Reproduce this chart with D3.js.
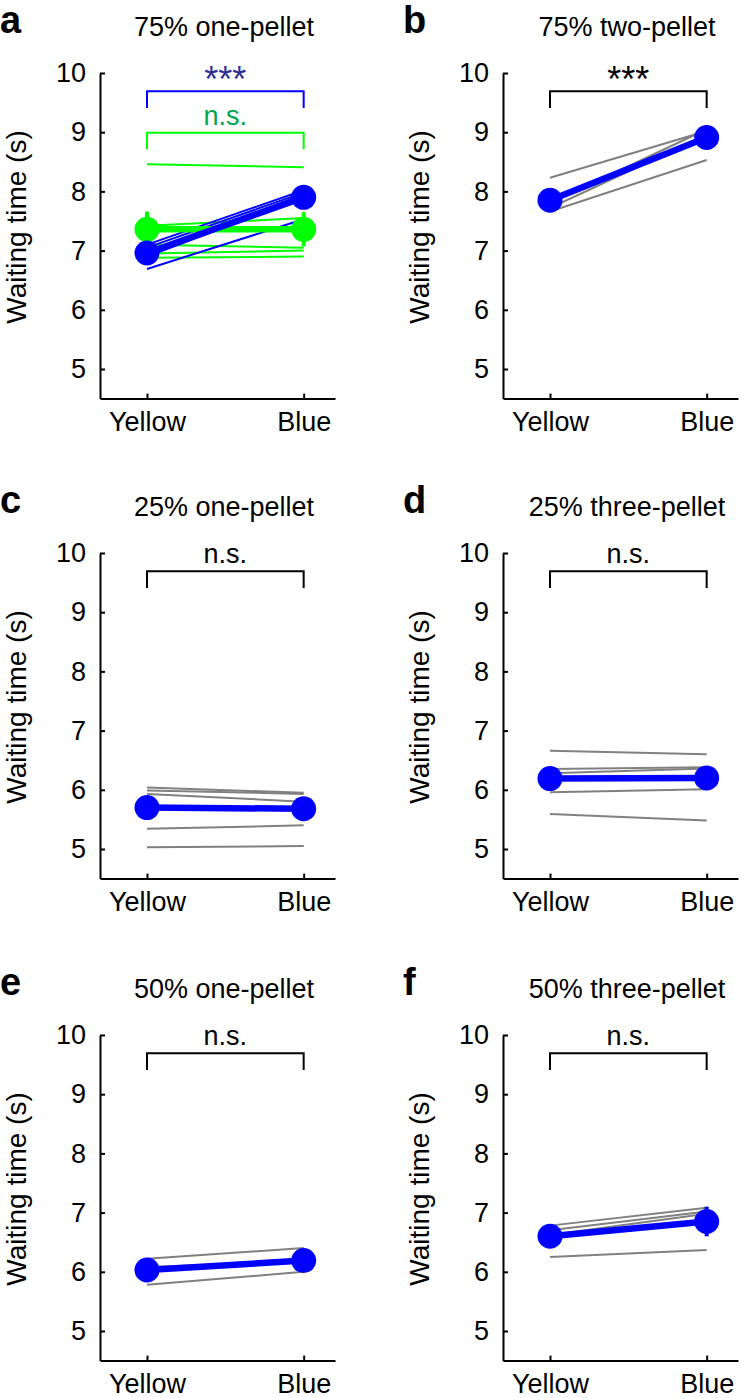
<!DOCTYPE html>
<html><head><meta charset="utf-8">
<script src="https://cdn.jsdelivr.net/npm/d3@7"></script>
<style>
body{margin:0;background:#fff;}
svg{display:block;font-family:Arial,"Liberation Sans",Helvetica,sans-serif;}
</style></head>
<body>
<svg id="chart" width="754" height="1398"></svg>
<script>
const panelLetters = ["a","b","c","d","e","f"];
const titles = ["75% one-pellet","75% two-pellet","25% one-pellet","25% three-pellet","50% one-pellet","50% three-pellet"];
const categories = ["Yellow","Blue"];
const yTicks = [5,6,7,8,9,10];
const meanYellow = [6.96, 7.85, 5.70, 6.19, 6.03, 6.60];
const meanBlue   = [7.90, 8.91, 5.68, 6.20, 6.19, 6.85];
const semYellow  = [0.08, 0.08, 0.05, 0.06, 0.05, 0.07];
const semBlue    = [0.08, 0.10, 0.05, 0.06, 0.05, 0.25];
const ratsYellow = [
  [7.10, 7.05, 6.95, 6.90, 6.69],
  [8.23, 7.80, 7.72, 7.66],
  [6.04, 5.99, 5.93, 5.34, 5.03],
  [6.66, 6.35, 6.28, 5.96, 5.59],
  [6.22, 6.08, 5.78],
  [6.78, 6.70, 6.62, 6.25]
];
const ratsBlue = [
  [8.02, 7.98, 7.95, 7.90, 7.53],
  [9.02, 9.05, 8.95, 8.53],
  [5.95, 5.93, 5.80, 5.40, 5.05],
  [6.60, 6.38, 6.36, 6.01, 5.48],
  [6.40, 6.18, 6.00],
  [7.08, 7.02, 6.98, 6.37]
];
// Panel a, second group (green)
const greenRatsYellow = [8.46, 7.42, 7.10, 6.95, 6.88];
const greenRatsBlue   = [8.41, 7.55, 7.05, 7.00, 6.90];
const greenMean = [7.36, 7.36];
const greenSem  = [0.30, 0.29];
const sigLabels = ["***","***","n.s.","n.s.","n.s.","n.s."];
const sigBracketY = [9.69, 9.69, 9.69, 9.69, 9.69, 9.69];
const greenSigLabel = "n.s.";
const greenBracketY = 8.99;

const svg = d3.select("#chart");
const font = 'Arial,"Liberation Sans",Helvetica,sans-serif';
const BLUE = "#0000ff", GREEN = "#00ff00", GRAY = "#808080";

const colX = [100, 503];
const rowTop = [73, 553, 1035];
const unit = 59.2;

panelLetters.forEach((letter, i) => {
  const ax = colX[i % 2];
  const top = rowTop[Math.floor(i / 2)];
  const y = d3.scaleLinear().domain([4.5, 10]).range([top + 5.5 * unit, top]);
  const x = d3.scaleLinear().domain([0.7, 2.2]).range([ax, ax + 235]);
  const g = svg.append("g");

  // panel letter
  g.append("text").attr("x", ax - 100).attr("y", top - 40)
    .attr("font-size", 38).attr("font-weight", "bold").attr("fill", "#000").text(letter);
  // title
  g.append("text").attr("x", ax + 124).attr("y", top - 37).attr("text-anchor", "middle")
    .attr("font-size", 27).attr("fill", "#000").text(titles[i]);

  // y axis
  const yAxis = d3.axisLeft(y).tickValues(yTicks).tickFormat(d3.format("d"))
    .tickSizeInner(-5).tickSizeOuter(0).tickPadding(14);
  const ya = g.append("g").attr("transform", `translate(${ax},0)`).call(yAxis);
  ya.select(".domain").attr("stroke", "#000").attr("stroke-width", 2);
  ya.selectAll(".tick line").attr("stroke", "#000").attr("stroke-width", 2);
  ya.selectAll(".tick text").attr("font-size", 27).attr("font-family", font).attr("fill", "#000");

  // x axis
  const xAxis = d3.axisBottom(x).tickValues([1, 2]).tickFormat((d) => categories[d - 1])
    .tickSizeInner(-5).tickSizeOuter(0).tickPadding(13);
  const xa = g.append("g").attr("transform", `translate(0,${y(4.5)})`).call(xAxis);
  xa.select(".domain").attr("stroke", "#000").attr("stroke-width", 2);
  xa.selectAll(".tick line").attr("stroke", "#000").attr("stroke-width", 2);
  xa.selectAll(".tick text").attr("font-size", 27).attr("font-family", font).attr("fill", "#000");

  // y label
  g.append("text").attr("transform", `translate(${ax - 74},${top + 154}) rotate(-90)`)
    .attr("text-anchor", "middle").attr("font-size", 28).attr("fill", "#000").text("Waiting time (s)");

  // brackets
  function bracket(val, color, label, labelColor) {
    const x1 = x(1), x2 = x(2), yt = y(val), yb = y(val - 0.28);
    g.append("path").attr("d", `M${x1},${yb}V${yt}H${x2}V${yb}`)
      .attr("fill", "none").attr("stroke", color).attr("stroke-width", 2);
    const isStar = label === "***";
    g.append("text").attr("x", (x1 + x2) / 2).attr("y", isStar ? yt + 1 : yt - 8)
      .attr("text-anchor", "middle").attr("font-size", isStar ? 36 : 27)
      .attr("fill", labelColor).text(label);
  }

  if (i === 0) {
    bracket(sigBracketY[i], BLUE, sigLabels[i], "#2e3192");
    bracket(greenBracketY, GREEN, greenSigLabel, "#00a550");
  } else {
    bracket(sigBracketY[i], "#000", sigLabels[i], "#000");
  }

  const thinColor = i === 0 ? BLUE : GRAY;
  // individual lines
  if (i === 0) {
    greenRatsYellow.forEach((v, k) => {
      g.append("line").attr("x1", x(1)).attr("y1", y(v)).attr("x2", x(2)).attr("y2", y(greenRatsBlue[k]))
        .attr("stroke", GREEN).attr("stroke-width", 2);
    });
  }
  ratsYellow[i].forEach((v, k) => {
    g.append("line").attr("x1", x(1)).attr("y1", y(v)).attr("x2", x(2)).attr("y2", y(ratsBlue[i][k]))
      .attr("stroke", thinColor).attr("stroke-width", 2);
  });

  function meanSeries(mY, mB, sY, sB, color) {
    [[1, mY, sY], [2, mB, sB]].forEach(([cx, m, s]) => {
      g.append("line").attr("x1", x(cx)).attr("x2", x(cx)).attr("y1", y(m - s)).attr("y2", y(m + s))
        .attr("stroke", color).attr("stroke-width", 4);
    });
    g.append("line").attr("x1", x(1)).attr("y1", y(mY)).attr("x2", x(2)).attr("y2", y(mB))
      .attr("stroke", color).attr("stroke-width", 6.5);
    [[1, mY], [2, mB]].forEach(([cx, m]) => {
      g.append("circle").attr("cx", x(cx)).attr("cy", y(m)).attr("r", 12.5).attr("fill", color);
    });
  }
  if (i === 0) meanSeries(greenMean[0], greenMean[1], greenSem[0], greenSem[1], GREEN);
  meanSeries(meanYellow[i], meanBlue[i], semYellow[i], semBlue[i], BLUE);
});
</script>
</body></html>
